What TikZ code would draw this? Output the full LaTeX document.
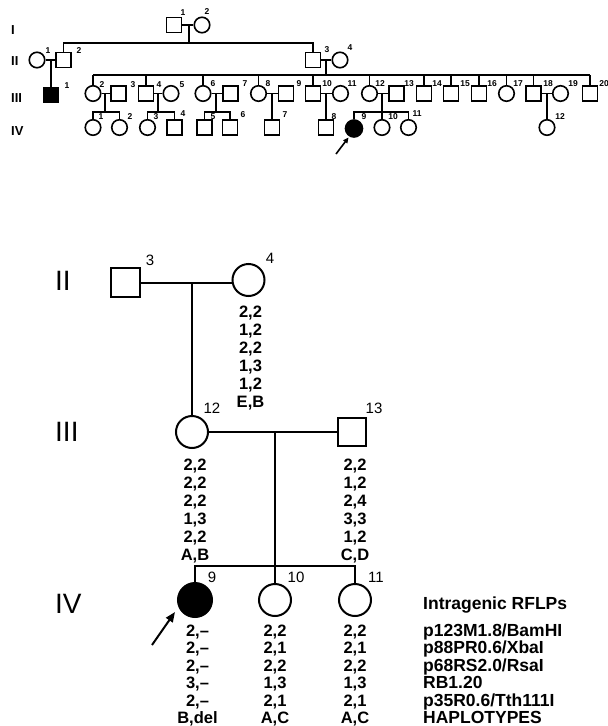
\documentclass[tikz,border=0pt]{standalone}
\usepackage{fontspec}
\setmainfont{Liberation Sans}
\usetikzlibrary{arrows.meta}
\begin{document}
\begin{tikzpicture}[x=1pt,y=-1pt,
  tl/.style={line width=1.6pt},
  tsq/.style={draw,line width=1.6pt,rectangle,minimum size=15pt,inner sep=0pt},
  tci/.style={draw,line width=1.6pt,circle,minimum size=15.5pt,inner sep=0pt},
  tnum/.style={font=\bfseries\fontsize{8.5}{8.5}\selectfont,inner sep=0pt},
  tgen/.style={font=\bfseries\fontsize{13}{13}\selectfont,inner sep=0pt,anchor=west},
  bl/.style={line width=2pt},
  bsq/.style={draw,line width=2pt,rectangle,minimum size=29pt,inner sep=0pt},
  bci/.style={draw,line width=2pt,circle,minimum size=32pt,inner sep=0pt},
  bnum/.style={font=\fontsize{15}{15}\selectfont,inner sep=0pt},
  geno/.style={font=\bfseries\fontsize{16.5}{17}\selectfont,inner sep=0pt,anchor=base},
  legtxt/.style={font=\bfseries\fontsize{17.5}{17.5}\selectfont,inner sep=0pt,anchor=base west},
  bgen/.style={font=\fontsize{28}{28}\selectfont,inner sep=0pt,anchor=west},
]
\useasboundingbox (0,0) rectangle (608,726);

% ---------------- top pedigree ----------------
\node[tgen] (rI) at (11,30) {I};
\node[tgen] (rII) at (11,61) {II};
\node[tgen] (rIII) at (11,98) {III};
\node[tgen] (rIV) at (11,131) {IV};

% generation I
\node[tsq] (I1) at (174,25) {};
\node[tci] (I2) at (202,25) {};
\node[tnum] (lI1) at (183,13) {1};
\node[tnum] (lI2) at (207,12) {2};
\draw[tl] (I1.east) -- (I2.west);
\coordinate (mI) at (189,25);
\coordinate (sII) at (189,43);
\draw[tl] (mI) -- (sII);

% generation II
\node[tci] (II1) at (37,60) {};
\node[tsq] (II2) at (63.5,60) {};
\node[tsq] (II3) at (313,60) {};
\node[tci] (II4) at (340,60) {};
\node[tnum] (lII1) at (48,51) {1};
\node[tnum] (lII2) at (79,51) {2};
\node[tnum] (lII3) at (327,50) {3};
\node[tnum] (lII4) at (350,48) {4};
\draw[tl] (II2.north) |- (sII) -| (II3.north);
\draw[tl] (II1.east) -- (II2.west);
\draw[tl] (II3.east) -- (II4.west);

% generation III
\node[tsq,fill=black] (III1) at (51,95) {};
\node[tci] (III2) at (93,93.5) {};
\node[tsq] (III3) at (118.5,93.5) {};
\node[tsq] (III4) at (146,93.5) {};
\node[tci] (III5) at (171,93.5) {};
\node[tci] (III6) at (203,93.5) {};
\node[tsq] (III7) at (230.5,93.5) {};
\node[tci] (III8) at (258.5,93.5) {};
\node[tsq] (III9) at (286,93.5) {};
\node[tsq] (III10) at (313,93.5) {};
\node[tci] (III11) at (340.5,93.5) {};
\node[tci] (III12) at (369.5,93.5) {};
\node[tsq] (III13) at (396.5,93.5) {};
\node[tsq] (III14) at (424,93.5) {};
\node[tsq] (III15) at (451,93.5) {};
\node[tsq] (III16) at (479,93.5) {};
\node[tci] (III17) at (506.5,93.5) {};
\node[tsq] (III18) at (533.5,93.5) {};
\node[tci] (III19) at (560.5,93.5) {};
\node[tsq] (III20) at (590,93.5) {};

\coordinate (mII1) at (51,60);
\draw[tl] (mII1) -- (III1.north);
\coordinate (mII2) at (326,60);
\coordinate (sIII) at (326,75);
\draw[tl] (mII2) -- (sIII);
\coordinate (sIIIL) at (93,75);
\coordinate (sIIIR) at (590,75);
\draw[tl] (sIIIL) -- (sIIIR);
\foreach \c in {III2,III4,III6,III8,III10,III12,III14,III15,III16,III17,III18,III20}
  \draw[tl] (\c.north) -- (\c.north |- sIIIL);

\draw[tl] (III2.east) -- (III3.west);
\draw[tl] (III4.east) -- (III5.west);
\draw[tl] (III6.east) -- (III7.west);
\draw[tl] (III8.east) -- (III9.west);
\draw[tl] (III10.east) -- (III11.west);
\draw[tl] (III12.east) -- (III13.west);
\draw[tl] (III18.east) -- (III19.west);

\foreach \n/\x/\y in {1/67/86,2/102/85,3/133/85,4/159/85,5/182/85,6/213/84,7/245/84,8/268/84,9/299/84,10/327/84,11/352/84,12/380/84,13/409/84,14/437/84,15/465/84,16/492/84,17/518/84,18/548/84,19/573/84,20/604/84}
  \node[tnum] (lIII\n) at (\x,\y) {\n};

% generation IV
\node[tci] (IV1) at (93,127.5) {};
\node[tci] (IV2) at (119.5,127.5) {};
\node[tci] (IV3) at (147.5,127.5) {};
\node[tsq] (IV4) at (174.5,127.5) {};
\node[tsq] (IV5) at (204.5,127.5) {};
\node[tsq] (IV6) at (230,127.5) {};
\node[tsq] (IV7) at (272,127.5) {};
\node[tsq] (IV8) at (326,127.5) {};
\node[draw,line width=1.6pt,circle,minimum size=17pt,inner sep=0pt,fill=black] (IV9) at (354,128.5) {};
\node[tci] (IV10) at (382,127.5) {};
\node[tci] (IV11) at (408.5,127.5) {};
\node[tci] (IV12) at (547,127.5) {};

\foreach \n/\x/\y in {1/101/117,2/130/117,3/156/117,4/183/114,5/213/117,6/243/115,7/285/115,8/334/117,9/364/117,10/393/117,11/417/114,12/560/117}
  \node[tnum] (lIV\n) at (\x,\y) {\n};

\coordinate (m23) at (105,93.5);  \coordinate (s23) at (105,112);
\draw[tl] (m23) -- (s23);
\draw[tl] (IV1.north) |- (s23) -| (IV2.north);
\coordinate (m45) at (158,93.5);  \coordinate (s45) at (158,112);
\draw[tl] (m45) -- (s45);
\draw[tl] (IV3.north) |- (s45) -| (IV4.north);
\coordinate (m67) at (216,93.5);  \coordinate (s67) at (216,112);
\draw[tl] (m67) -- (s67);
\draw[tl] (IV5.north) |- (s67) -| (IV6.north);
\coordinate (m89) at (272,93.5);
\draw[tl] (m89) -- (IV7.north);
\coordinate (m1011) at (326,93.5);
\draw[tl] (m1011) -- (IV8.north);
\coordinate (m1213) at (382,93.5);  \coordinate (s1213) at (382,112);
\draw[tl] (m1213) -- (IV10.north);
\draw[tl] (IV9.north) |- (s1213) -| (IV11.north);
\coordinate (m1819) at (547,93.5);
\draw[tl] (m1819) -- (IV12.north);

\coordinate (ta0) at (336,154);
\coordinate (ta1) at (348.5,137.5);
\draw[line width=1.6pt,-{Triangle[length=5.5pt,width=5pt]}] (ta0) -- (ta1);

% ---------------- bottom pedigree ----------------
\node[bgen] (bII) at (55,281) {II};
\node[bgen] (bIII) at (55,432) {III};
\node[bgen] (bIV) at (55,604) {IV};

\node[bsq] (B3) at (125.5,282.5) {};
\node[bci] (B4) at (248.5,280) {};
\node[bnum] (lB3) at (150,260) {3};
\node[bnum] (lB4) at (270,258) {4};
\draw[bl] (B3.east) -- (B3.east -| B4.west);
\coordinate (bm2) at (192,282.5);
\node[bci] (B12) at (192,432) {};
\node[bsq,minimum size=28pt] (B13) at (352,432) {};
\node[bnum] (lB12) at (212,408) {12};
\node[bnum] (lB13) at (374,408) {13};
\draw[bl] (bm2) -- (B12.north);
\draw[bl] (B12.east) -- (B13.west);

\coordinate (bm3) at (275,432);
\coordinate (bs4) at (275,566);
\node[bci,minimum size=34pt,fill=black] (B9) at (195,600) {};
\node[bci] (B10) at (275,600) {};
\node[bci] (B11) at (355,600) {};
\node[bnum] (lB9) at (212,577) {9};
\node[bnum] (lB10) at (296,577) {10};
\node[bnum] (lB11) at (376,577) {11};
\draw[bl] (bm3) -- (bs4);
\draw[bl] (B9.north) |- (bs4) -| (B11.north);
\draw[bl] (bs4) -- (B10.north);

\coordinate (ba0) at (152,645);
\coordinate (ba1) at (175,612);
\draw[bl,-{Triangle[length=10pt,width=8pt]}] (ba0) -- (ba1);

% genotypes
\foreach \t [count=\i from 0] in {{2,2},{1,2},{2,2},{1,3},{1,2},{E,B}}
  \node[geno] (g4-\i) at (250.5,{317+18*\i}) {\t};
\foreach \t [count=\i from 0] in {{2,2},{2,2},{2,2},{1,3},{2,2},{A,B}}
  \node[geno] (g12-\i) at (195,{470+18*\i}) {\t};
\foreach \t [count=\i from 0] in {{2,2},{1,2},{2,4},{3,3},{1,2},{C,D}}
  \node[geno] (g13-\i) at (355,{470+18*\i}) {\t};
\foreach \t [count=\i from 0] in {{2,–},{2,–},{2,–},{3,–},{2,–},{B,del}}
  \node[geno] (g9-\i) at (197.5,{636.5+17.4*\i}) {\t};
\foreach \t [count=\i from 0] in {{2,2},{2,1},{2,2},{1,3},{2,1},{A,C}}
  \node[geno] (g10-\i) at (275,{636.5+17.4*\i}) {\t};
\foreach \t [count=\i from 0] in {{2,2},{2,1},{2,2},{1,3},{2,1},{A,C}}
  \node[geno] (g11-\i) at (355,{636.5+17.4*\i}) {\t};

% legend
\node[legtxt] (leg0) at (423,609) {Intragenic RFLPs};
\foreach \t [count=\i from 1] in {p123M1.8/BamHI,p88PR0.6/XbaI,p68RS2.0/RsaI,RB1.20,p35R0.6/Tth111I,HAPLOTYPES}
  \node[legtxt] (leg\i) at (423,{636.5+17.4*(\i-1)}) {\t};
\end{tikzpicture}
\end{document}
